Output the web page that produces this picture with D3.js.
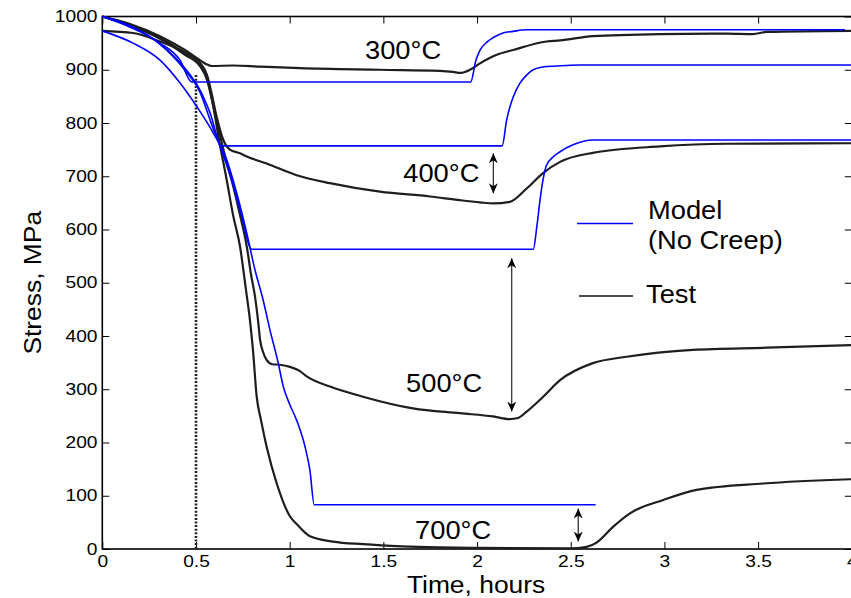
<!DOCTYPE html>
<html>
<head>
<meta charset="utf-8">
<script src="https://cdn.jsdelivr.net/npm/d3@7"></script>
<style>
  html, body { margin: 0; padding: 0; background: #fff; overflow: hidden; }
  svg { display: block; font-family: "Liberation Sans", Arial, sans-serif; }
</style>
</head>
<body>
<div id="Area"></div>
<script>
// values: [time (hours), stress (MPa)]
var model300 = [[0,1000],[0.148,980],[0.308,950],[0.415,918],[0.477,877],[1.966,877],[1.994,918],[2.016,937],[2.053,952],[2.085,960],[2.138,969],[2.192,972],[2.266,975],[3.963,975]];
var model400 = [[0,1000],[0.164,980],[0.308,948],[0.441,903],[0.521,862],[0.575,819],[0.637,757],[2.134,757],[2.158,806],[2.176,831],[2.193,849],[2.229,875],[2.265,890],[2.300,900],[2.371,906],[2.478,908],[2.549,909],[4.0,909]];
var model500 = [[0,1000],[0.164,980],[0.308,948],[0.441,899],[0.521,858],[0.585,796],[0.639,746],[0.698,684],[0.746,622],[0.797,563],[2.300,563],[2.320,608],[2.336,655],[2.352,693],[2.371,721],[2.405,736],[2.443,746],[2.512,759],[2.618,768],[4.0,768]];
var model700 = [[0,973],[0.164,950],[0.308,918],[0.415,875],[0.504,831],[0.591,782],[0.664,731],[0.717,669],[0.767,599],[0.815,524],[0.858,468],[0.895,411],[0.939,349],[0.966,305],[1.002,270],[1.037,242],[1.082,192],[1.108,148],[1.131,83],[2.633,83]];

var test300 = [[0,1000],[0.148,986],[0.308,963],[0.441,937],[0.521,918],[0.553,911],[0.585,907],[0.698,908],[0.841,906],[1.055,903],[1.482,900],[1.802,898],[1.872,896],[1.909,894],[1.962,900],[2.016,912],[2.105,928],[2.192,937],[2.371,953],[2.443,955],[2.618,963],[2.976,967],[3.333,968],[3.472,967],[3.547,971],[4.0,973]];
var test400 = [[0,1000],[0.148,984],[0.308,960],[0.441,931],[0.521,913],[0.559,890],[0.585,853],[0.610,812],[0.646,768],[0.681,750],[0.735,743],[0.771,737],[0.877,724],[1.037,702],[1.215,687],[1.482,671],[1.749,662],[1.909,655],[2.016,651],[2.086,649],[2.175,652],[2.265,677],[2.352,706],[2.443,727],[2.618,744],[2.976,756],[3.333,761],[4.0,762]];
var test500 = [[0,1000],[0.148,983],[0.308,958],[0.441,928],[0.521,907],[0.559,881],[0.591,834],[0.628,777],[0.660,731],[0.690,693],[0.735,627],[0.771,568],[0.794,515],[0.815,474],[0.831,430],[0.842,393],[0.858,370],[0.877,355],[0.906,347],[0.948,346],[1.002,342],[1.055,334],[1.091,324],[1.215,305],[1.391,286],[1.658,264],[1.909,255],[2.085,249],[2.175,244],[2.218,246],[2.265,258],[2.353,286],[2.443,317],[2.618,349],[2.798,361],[3.152,374],[3.545,378],[4.0,383]];
var test700 = [[0,973],[0.164,969],[0.308,953],[0.450,931],[0.521,913],[0.564,881],[0.591,834],[0.623,768],[0.664,693],[0.698,627],[0.735,568],[0.767,486],[0.788,430],[0.804,374],[0.824,286],[0.847,242],[0.877,192],[0.931,123],[1.002,61],[1.037,47],[1.108,24],[1.231,14],[1.393,9],[1.600,5],[1.800,3],[2.016,2],[2.496,1],[2.585,4],[2.638,12],[2.727,42],[2.816,67],[2.994,92],[3.172,111],[3.527,123],[4.0,131]];

var xTicks = [0, 0.5, 1, 1.5, 2, 2.5, 3, 3.5, 4];
var yTicks = [0, 100, 200, 300, 400, 500, 600, 700, 800, 900, 1000];

var labelNames = ["300°C", "400°C", "500°C", "700°C"];
var labelTime = [1.402, 1.606, 1.621, 1.669];
var labelStress = [920, 690, 295, 19];

var arrowTime = [2.087, 2.185, 2.54];
var arrowTop = [743, 546, 76];
var arrowBottom = [668, 258, 14];

var holdTime = 0.5;      // dotted marker
var holdTop = 890;

var legendNames = ["Model", "Test"];

var width = 851, height = 598;
var svg, x, y;

function setup_axes() {
    x = d3.scaleLinear().domain([0, 4]).range([102.3, 851.8]);
    y = d3.scaleLinear().domain([0, 1000]).range([549, 16.5]);

    // bottom axis with labels, ticks pointing inward
    var xb = svg.append("g")
        .attr("transform", "translate(0," + y(0) + ")")
        .call(d3.axisBottom(x).tickValues(xTicks).tickFormat(d3.format("")).tickSize(-7).tickSizeOuter(0).tickPadding(7));
    var yl = svg.append("g")
        .attr("transform", "translate(" + x(0) + ",0)")
        .call(d3.axisLeft(y).tickValues(yTicks).tickFormat(d3.format("d")).tickSize(-7).tickSizeOuter(0).tickPadding(4));
    // top and right: ticks only
    var xt = svg.append("g")
        .attr("transform", "translate(0," + y(1000) + ")")
        .call(d3.axisTop(x).tickValues(xTicks).tickFormat("").tickSize(-7).tickSizeOuter(0));
    var yr = svg.append("g")
        .attr("transform", "translate(" + x(4) + ",0)")
        .call(d3.axisRight(y).tickValues(yTicks).tickFormat("").tickSize(-7).tickSizeOuter(0));

    [xb, yl, xt, yr].forEach(function(g) {
        g.select(".domain").remove();
        g.selectAll(".tick line").attr("stroke", "#000").attr("stroke-width", 1);
        g.selectAll(".tick text")
            .attr("fill", "#000")
            .style("font-family", "'Liberation Sans', Arial, sans-serif")
            .style("font-size", "16px");
    });
    xb.selectAll(".tick text").attr("transform", "scale(1.2,1)");
    yl.selectAll(".tick text").attr("transform", "scale(1.2,1)");

    // frame
    svg.append("rect")
        .attr("x", x(0)).attr("y", y(1000))
        .attr("width", x(4) - x(0)).attr("height", y(0) - y(1000))
        .attr("fill", "none").attr("stroke", "#000").attr("stroke-width", 1.6);

    svg.append("text")
        .attr("transform", "translate(" + ((x(0) + x(4)) / 2 - 1) + ",593) scale(1.1,1)")
        .attr("text-anchor", "middle")
        .style("font-size", "24px")
        .text("Time, hours");

    svg.append("text")
        .attr("transform", "translate(41," + ((y(0) + y(1000)) / 2) + ") rotate(-90) scale(1.1,1)")
        .attr("text-anchor", "middle")
        .style("font-size", "24px")
        .text("Stress, MPa");
}

function drawCurves() {
    var line = d3.line()
        .x(function(d) { return x(d[0]); })
        .y(function(d) { return y(d[1]); })
        .curve(d3.curveMonotoneX);

    // dotted line at start of hold
    svg.append("line")
        .attr("x1", x(holdTime)).attr("x2", x(holdTime))
        .attr("y1", y(holdTop)).attr("y2", y(0))
        .attr("stroke", "#222")
        .attr("stroke-width", 2.6)
        .attr("stroke-dasharray", "2,1.6");

    [test300, test400, test500, test700].forEach(function(s) {
        svg.append("path")
            .datum(s)
            .attr("fill", "none")
            .attr("stroke", "#1e1e1e")
            .attr("stroke-width", 2.2)
            .attr("stroke-linejoin", "round")
            .attr("d", line);
    });

    [model300, model400, model500, model700].forEach(function(s) {
        svg.append("path")
            .datum(s)
            .attr("fill", "none")
            .attr("stroke", "#0000ff")
            .attr("stroke-width", 1.6)
            .attr("d", line);
    });
}

function drawNotes() {
    svg.append("defs").append("marker")
        .attr("id", "head")
        .attr("viewBox", "0 -5 10 10")
        .attr("refX", 10).attr("refY", 0)
        .attr("markerUnits", "userSpaceOnUse")
        .attr("markerWidth", 10).attr("markerHeight", 10)
        .attr("orient", "auto-start-reverse")
        .append("path")
        .attr("d", "M0,-4.5L10,0L0,4.5L3,0Z")
        .attr("fill", "#000");

    svg.selectAll(".arrow")
        .data(arrowTime)
        .enter()
        .append("line")
        .attr("class", "arrow")
        .attr("x1", function(d) { return x(d); })
        .attr("x2", function(d) { return x(d); })
        .attr("y1", function(d, i) { return y(arrowTop[i]); })
        .attr("y2", function(d, i) { return y(arrowBottom[i]); })
        .attr("stroke", "#222")
        .attr("stroke-width", 1.2)
        .attr("marker-start", "url(#head)")
        .attr("marker-end", "url(#head)");

    svg.selectAll(".templabel")
        .data(labelNames)
        .enter()
        .append("text")
        .attr("class", "templabel")
        .attr("transform", function(d, i) {
            return "translate(" + x(labelTime[i]) + "," + y(labelStress[i]) + ") scale(1.05,1)";
        })
        .style("font-size", "26px")
        .text(function(d) { return d; });

    // legend
    var lg = svg.append("g");
    lg.append("line").attr("x1", 577).attr("x2", 633).attr("y1", 223.5).attr("y2", 223.5)
        .attr("stroke", "#0000ff").attr("stroke-width", 1.4);
    lg.append("text").attr("transform", "translate(648,219) scale(1.05,1)")
        .style("font-size", "26px").text(legendNames[0]);
    lg.append("text").attr("transform", "translate(648,249) scale(1.05,1)")
        .style("font-size", "26px").text("(No Creep)");
    lg.append("line").attr("x1", 579).attr("x2", 633).attr("y1", 296).attr("y2", 296)
        .attr("stroke", "#111").attr("stroke-width", 1.4);
    lg.append("text").attr("transform", "translate(646,302.7) scale(1.05,1)")
        .style("font-size", "26px").text(legendNames[1]);
}

function start() {
    svg = d3.select("#Area")
        .append("svg")
        .attr("width", width)
        .attr("height", height);

    setup_axes();
    drawCurves();
    drawNotes();
}

start();
</script>
</body>
</html>
